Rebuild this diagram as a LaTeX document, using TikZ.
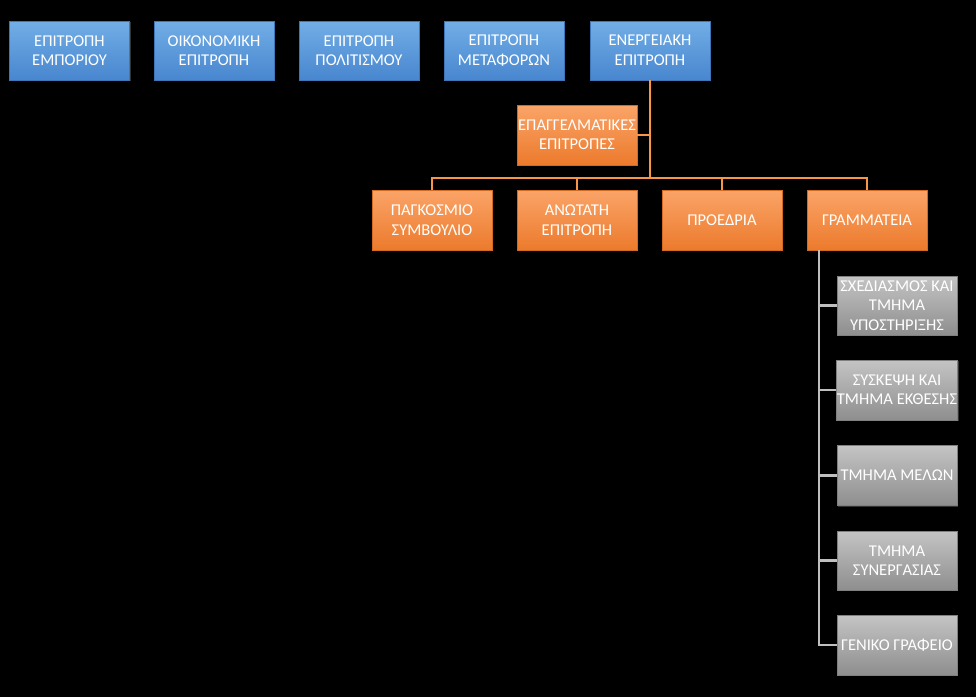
\documentclass[tikz,border=0pt]{standalone}
\usepackage{fontspec}
\setmainfont{Carlito}
\usetikzlibrary{shadows}
\begin{document}
\begin{tikzpicture}[x=1pt,y=-1pt,
  box/.style={minimum width=120pt,minimum height=59pt,inner sep=0.5pt,
    align=center,text=white,font=\fontsize{16.5}{19.5}\selectfont,
    drop shadow={opacity=0.4,shadow xshift=1pt,shadow yshift=-1pt}},
  bluebox/.style={box,top color=blueT,bottom color=blueB,draw=blueD,line width=0.4pt},
  orangebox/.style={box,top color=orT,bottom color=orB,draw=orD,line width=0.4pt},
  graybox/.style={box,top color=grT,bottom color=grB,draw=grD,line width=0.4pt},
  oline/.style={draw=orL,line width=2.5pt},
  gline/.style={draw=grL,line width=2.5pt}]
\definecolor{blueT}{HTML}{72AEE6}
\definecolor{blueB}{HTML}{4886CF}
\definecolor{blueD}{HTML}{3F76B8}
\definecolor{orT}{HTML}{FAA468}
\definecolor{orB}{HTML}{EC7A2C}
\definecolor{orD}{HTML}{D26A22}
\definecolor{orL}{HTML}{F79646}
\definecolor{grT}{HTML}{C4C4C4}
\definecolor{grB}{HTML}{8E8E8E}
\definecolor{grD}{HTML}{808080}
\definecolor{grL}{HTML}{BFBFBF}
\fill[black] (0,0) rectangle (976,697);
\useasboundingbox (0,0) rectangle (976,697);
% top blue row
\node[bluebox] (e1) at (69.5,50.5) {ΕΠΙΤΡΟΠΗ\\ΕΜΠΟΡΙΟΥ};
\node[bluebox] (e2) at (214,50.5) {ΟΙΚΟΝΟΜΙΚΗ\\ΕΠΙΤΡΟΠΗ};
\node[bluebox] (e3) at (359,50.5) {ΕΠΙΤΡΟΠΗ\\ΠΟΛΙΤΙΣΜΟΥ};
\node[bluebox] (e4) at (504,50.5) {ΕΠΙΤΡΟΠΗ\\ΜΕΤΑΦΟΡΩΝ};
\node[bluebox] (e5) at (650,50.5) {ΕΝΕΡΓΕΙΑΚΗ\\ΕΠΙΤΡΟΠΗ};
% orange
\node[orangebox,minimum height=60pt] (ep) at (577,135) {ΕΠΑΓΓΕΛΜΑΤΙΚΕΣ\\ΕΠΙΤΡΟΠΕΣ};
\node[orangebox,minimum height=60pt] (p1) at (432,220) {ΠΑΓΚΟΣΜΙΟ\\ΣΥΜΒΟΥΛΙΟ};
\node[orangebox,minimum height=60pt] (p2) at (577,220) {ΑΝΩΤΑΤΗ\\ΕΠΙΤΡΟΠΗ};
\node[orangebox,minimum height=60pt] (p3) at (722,220) {ΠΡΟΕΔΡΙΑ};
\node[orangebox,minimum height=60pt] (p4) at (867,220) {ΓΡΑΜΜΑΤΕΙΑ};
% gray
\node[graybox,minimum height=59pt] (s1) at (897,305.5) {ΣΧΕΔΙΑΣΜΟΣ ΚΑΙ\\ΤΜΗΜΑ\\ΥΠΟΣΤΗΡΙΞΗΣ};
\node[graybox,minimum height=60pt] (s2) at (897,390) {ΣΥΣΚΕΨΗ ΚΑΙ\\ΤΜΗΜΑ ΕΚΘΕΣΗΣ};
\node[graybox,minimum height=60pt] (s3) at (897,475.5) {ΤΜΗΜΑ ΜΕΛΩΝ};
\node[graybox,minimum height=59pt] (s4) at (897,560.5) {ΤΜΗΜΑ\\ΣΥΝΕΡΓΑΣΙΑΣ};
\node[graybox,minimum height=60pt] (s5) at (897,645) {ΓΕΝΙΚΟ ΓΡΑΦΕΙΟ};
% connectors
\coordinate (hub) at (650,178);
\coordinate (gtop) at (819,250);
\draw[oline] (e5.south) -- (hub);
\draw[oline] (ep.east) -- (ep.east -| hub);
\draw[oline] (hub) -| (p1.north);
\draw[oline] (hub) -| (p2.north);
\draw[oline] (hub) -| (p3.north);
\draw[oline] (hub) -| (p4.north);
\draw[gline] (gtop) |- (s1.west);
\draw[gline] (gtop) |- (s2.west);
\draw[gline] (gtop) |- (s3.west);
\draw[gline] (gtop) |- (s4.west);
\draw[gline] (gtop) |- (s5.west);
\end{tikzpicture}
\end{document}
